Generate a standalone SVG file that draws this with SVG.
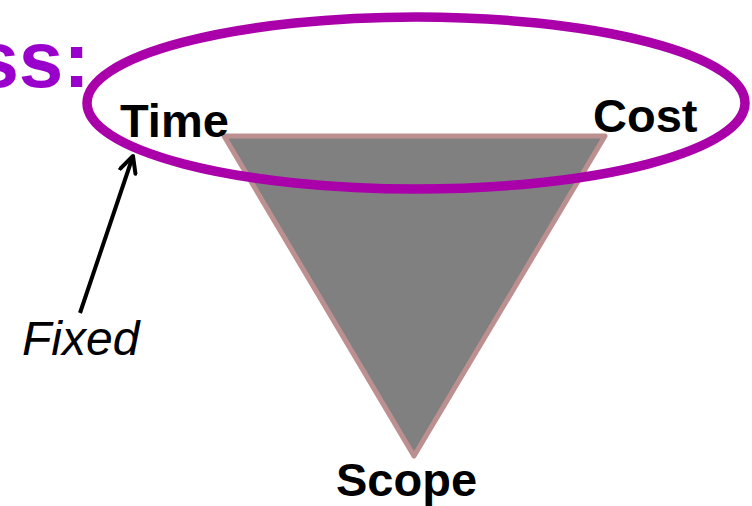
<svg xmlns="http://www.w3.org/2000/svg" width="752" height="506" viewBox="0 0 752 506">
<style>
.lbl{font-family:"Liberation Sans",Arial,sans-serif;font-weight:bold;font-size:47px;fill:#000}
.title{font-family:"Liberation Sans",Arial,sans-serif;font-weight:bold;font-size:80px;fill:#9A00CC}
.it{font-family:"Liberation Sans",Arial,sans-serif;font-style:italic;font-size:48px;fill:#000}
</style>
<defs>
<marker id="arr" viewBox="0 0 20 20" refX="18" refY="10" markerWidth="20" markerHeight="20" markerUnits="userSpaceOnUse" orient="auto">
<path d="M2,2 L18,10 L2,18" fill="none" stroke="#000" stroke-width="4" stroke-linecap="round" stroke-linejoin="round"/>
</marker>
</defs>
<rect width="752" height="506" fill="#fff"/>
<text class="title" x="90" y="87" text-anchor="end">ss:</text>
<g id="triangle">
<polygon points="224,136 605,136 414,456" fill="#808080" stroke="#BC9090" stroke-width="5" stroke-linejoin="round"/>
</g>
<g id="ellipse">
<ellipse cx="416" cy="103" rx="329" ry="86" fill="none" stroke="#AA00AA" stroke-width="9.5"/>
</g>
<g id="time"><text class="lbl" x="120" y="137" font-size="46">Time</text></g>
<g id="cost"><text class="lbl" x="593" y="132">Cost</text></g>
<g id="scope"><text class="lbl" x="336" y="496">Scope</text></g>
<g id="fixed"><text class="it" x="22" y="355">Fixed</text></g>
<g id="connectors">
<line x1="80" y1="313" x2="133" y2="156" stroke="#000" stroke-width="4" marker-end="url(#arr)"/>
</g>
</svg>
